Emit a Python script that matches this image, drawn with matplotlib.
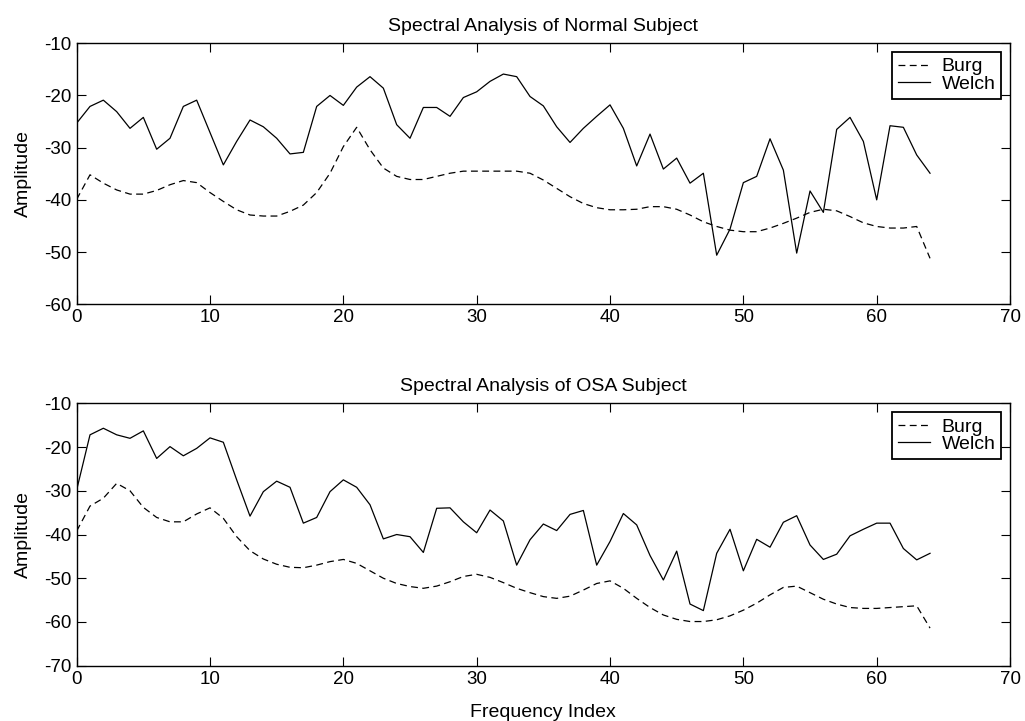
import numpy as np
import matplotlib
matplotlib.use('Agg')
from matplotlib import pyplot as plt

plt.rcParams['font.family'] = ['Liberation Sans', 'DejaVu Sans']
plt.rcParams['axes.unicode_minus'] = False

freq_index = np.arange(65)

# normal subject
normal_welch = [-25.3, -22.1, -20.9, -23.1, -26.3, -24.2, -30.3, -28.2, -22.1, -20.9,
                -27.1, -33.3, -28.8, -24.7, -26.0, -28.2, -31.2, -30.9, -22.1, -20.0,
                -21.9, -18.4, -16.4, -18.6, -25.6, -28.2, -22.3, -22.3, -24.0, -20.4,
                -19.3, -17.3, -15.9, -16.4, -20.2, -22.0, -26.0, -29.0, -26.3, -24.0,
                -21.8, -26.3, -33.5, -27.4, -34.1, -32.0, -36.8, -34.9, -50.6, -45.6,
                -36.7, -35.5, -28.3, -34.3, -50.2, -38.3, -42.4, -26.5, -24.2, -28.8,
                -40.0, -25.8, -26.1, -31.4, -34.9]
normal_burg = [-39.9, -35.2, -36.8, -38.1, -38.9, -38.9, -38.2, -37.1, -36.3, -36.7,
               -38.6, -40.3, -41.9, -42.9, -43.1, -43.1, -42.2, -41.0, -38.6, -34.9,
               -29.8, -26.1, -30.4, -33.9, -35.5, -36.1, -36.1, -35.5, -34.9, -34.5,
               -34.5, -34.5, -34.5, -34.5, -34.9, -36.2, -37.8, -39.4, -40.7, -41.5,
               -41.9, -41.9, -41.8, -41.3, -41.3, -41.8, -42.9, -44.2, -45.1, -45.8,
               -46.1, -46.1, -45.4, -44.5, -43.5, -42.4, -41.8, -42.1, -43.2, -44.4,
               -45.1, -45.4, -45.4, -45.1, -51.2]

# OSA subject
osa_welch = [-29.8, -17.2, -15.7, -17.2, -18.0, -16.3, -22.6, -19.9, -22.0, -20.3,
             -17.9, -18.9, -27.5, -35.8, -30.2, -27.8, -29.2, -37.4, -36.1, -30.2,
             -27.5, -29.2, -33.2, -41.0, -40.0, -40.5, -44.1, -34.0, -33.9, -37.1,
             -39.6, -34.4, -36.9, -47.0, -41.2, -37.6, -39.1, -35.4, -34.5, -47.0,
             -41.6, -35.2, -37.8, -44.8, -50.4, -43.8, -55.9, -57.4, -44.3, -38.8,
             -48.3, -41.1, -42.9, -37.2, -35.7, -42.4, -45.7, -44.5, -40.3, -38.8,
             -37.4, -37.4, -43.2, -45.8, -44.3]
osa_burg = [-39.2, -33.5, -31.7, -28.3, -30.0, -33.8, -36.1, -37.1, -37.1, -35.3,
            -33.9, -36.3, -40.5, -43.7, -45.6, -46.8, -47.5, -47.6, -47.0, -46.2,
            -45.7, -46.6, -48.3, -50.0, -51.2, -51.9, -52.3, -51.8, -50.8, -49.6,
            -49.1, -49.8, -51.0, -52.3, -53.3, -54.2, -54.6, -54.1, -52.7, -51.2,
            -50.6, -52.3, -54.6, -56.7, -58.4, -59.4, -59.9, -59.9, -59.5, -58.6,
            -57.3, -55.7, -53.8, -52.1, -51.8, -53.3, -54.8, -55.9, -56.7, -56.9,
            -56.9, -56.7, -56.5, -56.3, -61.4]

fig = plt.figure(figsize=(10.25, 7.21), dpi=100, facecolor='w')
ax1 = fig.add_axes([0.0748, 0.578, 0.9106, 0.362])
ax2 = fig.add_axes([0.0748, 0.0767, 0.9106, 0.3639])

panels = [(ax1, normal_burg, normal_welch, 'Spectral Analysis of Normal Subject', (-60, -10)),
          (ax2, osa_burg, osa_welch, 'Spectral Analysis of OSA Subject', (-70, -10))]

for ax, burg, welch, title, ylim in panels:
    ax.plot(freq_index, burg, color='black', linestyle=(0, (5.5, 3.5)), linewidth=0.9, label='Burg')
    ax.plot(freq_index, welch, color='black', linestyle='-', linewidth=0.9, label='Welch')
    ax.set_xlim(0, 70)
    ax.set_ylim(*ylim)
    ax.set_xticks(np.arange(0, 71, 10))
    ax.set_yticks(np.arange(ylim[0], ylim[1] + 1, 10))
    ax.tick_params(direction='in', top=True, right=True, length=6.5, width=0.8, labelsize=13.5)
    for s in ax.spines.values():
        s.set_linewidth(1.0)
    ax.set_title(title, fontsize=14, pad=9)
    ax.set_ylabel('Amplitude', fontsize=14, labelpad=9)
    leg = ax.legend(loc='upper right', fontsize=14, frameon=True, fancybox=False,
                    edgecolor='black', framealpha=1, handlelength=1.65, handletextpad=0.6,
                    borderpad=0.3, labelspacing=0.0, borderaxespad=0.45)
    leg.get_frame().set_linewidth(1.3)

ax2.set_xlabel('Frequency Index', fontsize=14, labelpad=12)

plt.savefig('out.png', dpi=100)
